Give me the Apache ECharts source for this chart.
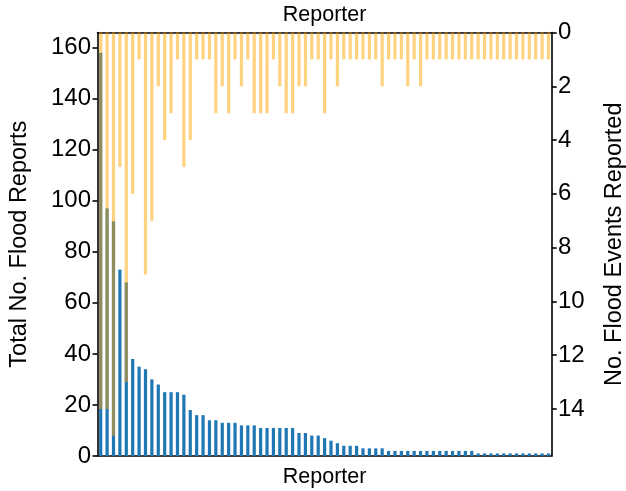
<!DOCTYPE html>
<html>
<head>
<meta charset="utf-8">
<script src="https://cdn.jsdelivr.net/npm/echarts@6/dist/echarts.min.js"></script>
<style>html,body{margin:0;padding:0;background:#fff}#c{width:626px;height:491px}</style>
</head>
<body>
<div id="c"></div>
<script>
// Reporters (one category per reporter), sorted by total reports
const reporters = Array.from({length: 71}, (_, i) => 'R' + (i + 1));
const totalReports = [158, 97, 92, 73, 68, 38, 35, 34, 30, 28, 25, 25, 25, 24, 18, 16, 16, 14, 14, 13,
  13, 13, 12, 12, 12, 11, 11, 11, 11, 11, 11, 9, 9, 8, 8, 7, 6, 5, 4, 4,
  4, 3, 3, 3, 3, 2, 2, 2, 2, 2, 2, 2, 2, 2, 2, 2, 2, 2, 2, 1,
  1, 1, 1, 1, 1, 1, 1, 1, 1, 1, 1];
const floodEvents = [14, 14, 15, 5, 13, 6, 1, 9, 7, 2, 4, 3, 1, 5, 4, 1, 1, 1, 3, 2,
  3, 1, 2, 1, 3, 3, 3, 1, 2, 3, 3, 2, 2, 1, 1, 3, 1, 2, 1, 1,
  1, 1, 1, 1, 2, 1, 1, 1, 2, 1, 2, 1, 1, 1, 1, 1, 1, 1, 1, 1,
  1, 1, 1, 1, 1, 1, 1, 1, 1, 1, 1];
const leftTicks = [0, 20, 40, 60, 80, 100, 120, 140, 160];
const rightTicks = [0, 2, 4, 6, 8, 10, 12, 14];
const leftMax = Math.max(...totalReports) * 1.05;
const rightMax = Math.max(...floodEvents) * 1.05;

const FONT = 'Liberation Sans';
const TICK_FS = 24;
const YNAME_FS = 23.5;
const XNAME_FS = 21.5;
const black = '#000';
const axisLineStyle = {show: true, lineStyle: {color: black, width: 1.6}};

const chart = echarts.init(document.getElementById('c'), null, {renderer: 'canvas'});
chart.setOption({
  animation: false,
  backgroundColor: '#fff',
  grid: {left: 97.5, right: 74.3, top: 32.5, bottom: 35, containLabel: false, outerBoundsMode: 'none'},
  xAxis: [
    {type: 'category', data: reporters, position: 'bottom', boundaryGap: true,
     name: 'Reporter', nameLocation: 'middle', nameGap: 10,
     nameTextStyle: {fontFamily: FONT, fontSize: XNAME_FS, color: black, verticalAlign: 'top'},
     axisLine: axisLineStyle, axisTick: {show: false}, axisLabel: {show: false}, splitLine: {show: false}},
    {type: 'category', data: reporters, position: 'top', boundaryGap: true,
     name: 'Reporter', nameLocation: 'middle', nameGap: 6,
     nameTextStyle: {fontFamily: FONT, fontSize: XNAME_FS, color: black, verticalAlign: 'bottom'},
     axisLine: axisLineStyle, axisTick: {show: false}, axisLabel: {show: false}, splitLine: {show: false}}
  ],
  yAxis: [
    {type: 'value', position: 'left', min: 0, max: leftMax,
     name: 'Total No. Flood Reports', nameLocation: 'middle', nameGap: 65.5,
     nameTextStyle: {fontFamily: FONT, fontSize: YNAME_FS, color: black},
     axisLine: axisLineStyle,
     axisTick: {show: true, inside: false, length: 5, lineStyle: {color: black, width: 1.6}, customValues: leftTicks},
     axisLabel: {fontFamily: FONT, fontSize: TICK_FS, color: black, margin: 6.5, customValues: leftTicks},
     splitLine: {show: false}},
    {type: 'value', position: 'right', min: 0, max: rightMax, inverse: true,
     name: 'No. Flood Events Reported', nameLocation: 'middle', nameGap: 50.5,
     nameTextStyle: {fontFamily: FONT, fontSize: YNAME_FS, color: black},
     axisLine: axisLineStyle,
     axisTick: {show: true, inside: false, length: 5, lineStyle: {color: black, width: 1.6}, customValues: rightTicks},
     axisLabel: {fontFamily: FONT, fontSize: TICK_FS, color: black, margin: 6.3, customValues: rightTicks},
     splitLine: {show: false}}
  ],
  series: [
    {type: 'bar', name: 'Total No. Flood Reports', xAxisIndex: 0, yAxisIndex: 0, data: totalReports,
     barWidth: '50%', itemStyle: {color: '#1f77b4'}, z: 2},
    {type: 'bar', name: 'No. Flood Events Reported', xAxisIndex: 1, yAxisIndex: 1, data: floodEvents,
     barWidth: '50%', itemStyle: {color: 'rgba(255,165,0,0.5)'}, z: 3}
  ]
});
</script>
</body>
</html>
